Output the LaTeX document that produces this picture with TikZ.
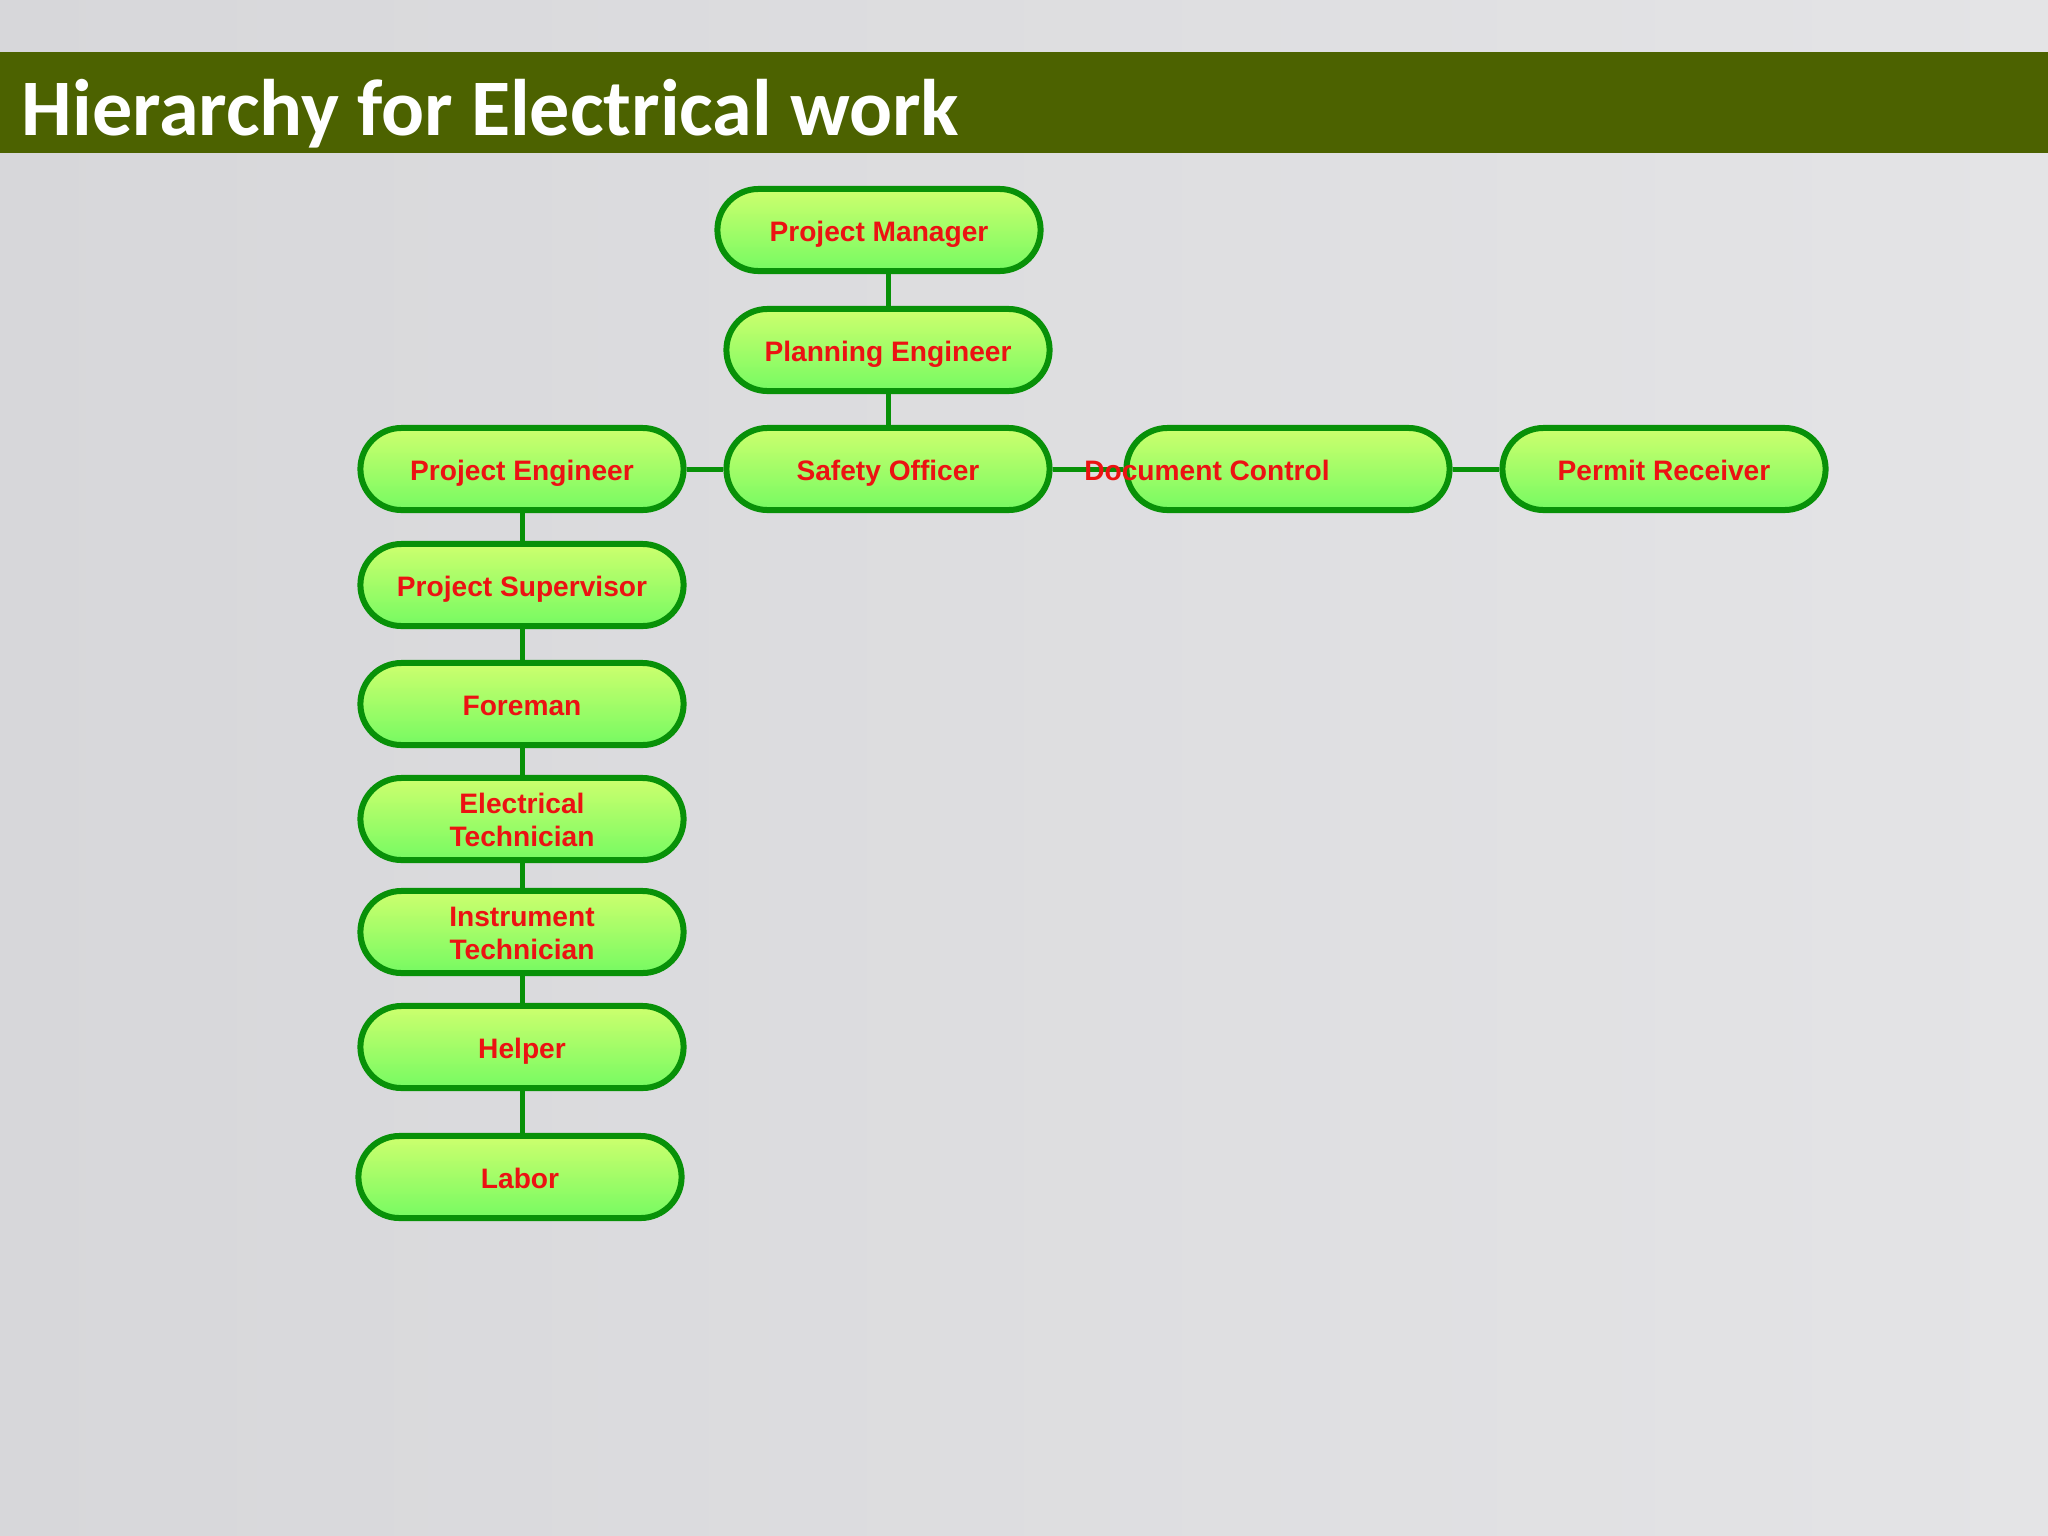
\documentclass[tikz,border=0pt]{standalone}
\usepackage{fontspec}
\setmainfont{Liberation Sans}
\newfontfamily\titlefont{Carlito}
\usetikzlibrary{shapes.misc}
\definecolor{bgLeft}{RGB}{215,215,218}
\definecolor{bgRight}{RGB}{228,228,230}
\definecolor{barOlive}{RGB}{76,98,0}
\definecolor{boxLine}{RGB}{8,145,8}
\definecolor{boxTop}{RGB}{205,255,110}
\definecolor{boxBot}{RGB}{118,250,98}
\definecolor{txtRed}{RGB}{236,18,18}
\tikzset{
  post/.style={rounded rectangle, draw=boxLine, line width=0.06cm,
    top color=boxTop, bottom color=boxBot, minimum width=3.23cm,
    minimum height=0.82cm, inner sep=0pt, align=center, text=txtRed,
    font=\bfseries\fontsize{8}{9.4}\selectfont, text height=6.5pt, text depth=0pt},
  post2/.style={post, text height=15.8pt},
  lbl/.style={inner sep=0pt, text=txtRed, font=\bfseries\fontsize{8}{9.4}\selectfont,
    text height=6.5pt, text depth=0pt},
  link/.style={draw=boxLine, line width=0.05cm},
}

\begin{document}
\begin{tikzpicture}[x=0.01cm, y=-0.01cm]
		%%%%% START %%%%%
		
		\useasboundingbox (0, 0) rectangle (2048, 1536);
		\shade[left color=bgLeft, right color=bgRight] (0, 0) rectangle (2048, 1536);
		\fill[barOlive] (0, 52) rectangle (2048, 153);
		\node[anchor=base west, inner sep=0pt, text=white,
		  font=\titlefont\bfseries\fontsize{22.8}{27}\selectfont] (title) at (21, 135) {Hierarchy for Electrical work};
		
		\node[post] (pm) at (879, 230) {Project Manager};
		\node[post] (pe) at (888, 350) {Planning Engineer};
		\node[post] (so) at (888, 469) {Safety Officer};
		\node[post] (peng) at (522, 469) {Project Engineer};
		\node[post] (dc) at (1288, 469) {};
		\node[post] (pr) at (1664, 469) {Permit Receiver};
		
		\node[post] (psup) at (522, 585) {Project Supervisor};
		\node[post] (fm) at (522, 704) {Foreman};
		\node[post2] (et) at (522, 819) {Electrical\\Technician};
		\node[post2] (it) at (522, 932) {Instrument\\Technician};
		\node[post] (hp) at (522, 1047) {Helper};
		\node[post] (lb) at (520, 1177) {Labor};
		
		\draw[link] (pe.north) -- (pe.north |- pm.south);
		\draw[link] (pe.south) -- (so.north);
		\draw[link] (peng.east) -- (so.west);
		\draw[link] (so.east) -- (dc.west);
		\draw[link] (dc.east) -- (pr.west);
		
		\draw[link] (peng.south) -- (psup.north);
		\draw[link] (psup.south) -- (fm.north);
		\draw[link] (fm.south) -- (et.north);
		\draw[link] (et.south) -- (it.north);
		\draw[link] (it.south) -- (hp.north);
		\draw[link] (hp.south) -- (hp.south |- lb.north);
		
		\node[lbl] (dctext) at (1207, 469) {Document Control};
		
		%%%%% END %%%%%
\end{tikzpicture}
\end{document}
